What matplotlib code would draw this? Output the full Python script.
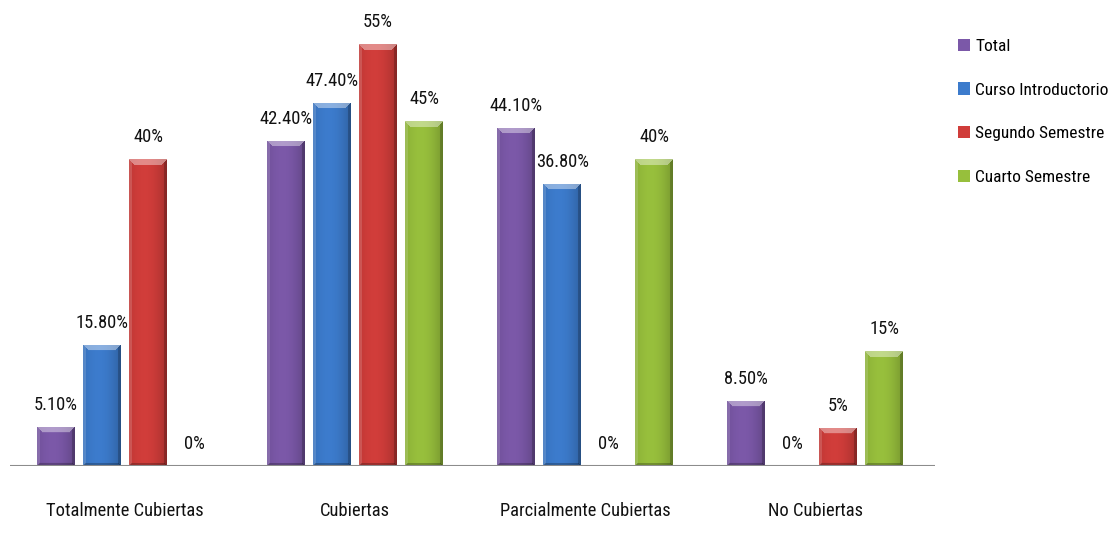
import numpy as np
import matplotlib
matplotlib.use("Agg")
import matplotlib.pyplot as plt
from matplotlib.patches import Patch
from matplotlib.colors import to_rgb
from matplotlib import font_manager

# Prefer a condensed sans face when one is installed
installed = {f.name for f in font_manager.fontManager.ttflist}
candidates = ["Liberation Sans Narrow", "Arial Narrow", "Roboto Condensed",
              "DejaVu Sans Condensed", "Liberation Sans"]
family = [c for c in candidates if c in installed] + ["DejaVu Sans"]
plt.rcParams['font.family'] = family
narrow = family[0] in ("Liberation Sans Narrow", "Arial Narrow", "Roboto Condensed")

categories = ["Totalmente Cubiertas", "Cubiertas", "Parcialmente Cubiertas", "No Cubiertas"]
series = ["Total", "Curso Introductorio", "Segundo Semestre", "Cuarto Semestre"]
total = [5.1, 42.4, 44.1, 8.5]
curso_intro = [15.8, 47.4, 36.8, 0.0]
segundo_sem = [40.0, 55.0, 0.0, 5.0]
cuarto_sem = [0.0, 45.0, 40.0, 15.0]
value_labels = [
    ["5.10%", "42.40%", "44.10%", "8.50%"],
    ["15.80%", "47.40%", "36.80%", "0%"],
    ["40%", "55%", "0%", "5%"],
    ["0%", "45%", "40%", "15%"],
]
colors = ["#7b58a8", "#3c7bcc", "#d03d3a", "#97bf3c"]

values = [total, curso_intro, segundo_sem, cuarto_sem]

fs_val = 13.3 if narrow else 11.5
fs_cat = 13.3 if narrow else 11.5
fs_leg = 12.5 if narrow else 11

fig = plt.figure(figsize=(11.2, 5.46), dpi=100)
ax = fig.add_axes([10 / 1120, 1 - 466 / 546, 925 / 1120, 460 / 546])
ax.set_xlim(-0.5, 3.52)
ax.set_ylim(0, 60)

x = np.arange(len(categories))
step = 0.2
width = 0.165


def shade(color, wpx, hpx):
    """Beveled, gradient-filled face for one bar, built on a pixel grid."""
    base = np.array(to_rgb(color))
    wpx = max(int(round(wpx)), 2)
    hpx = max(int(round(hpx)), 2)
    u = (np.arange(wpx) + 0.5) / wpx
    v = np.arange(hpx) + 0.5  # pixels from top
    U, V = np.meshgrid(u, v)
    Xp = U * wpx
    # horizontal gradient: lighter towards the left-centre, darker at the right edge
    f = 0.92 + 0.14 * np.sin(np.pi * U) - 0.12 * U
    img = base[None, None, :] * f[..., None]
    img = np.clip(img, 0, 1)
    bev = 6.0
    dist_top = V
    dist_bot = hpx - V
    dist_l = Xp
    dist_r = wpx - Xp
    m = np.minimum.reduce([dist_top, dist_bot, dist_l, dist_r])
    top = (dist_top <= bev) & (dist_top == m)
    left = (dist_l <= 3) & (dist_l == m) & ~top
    right = (dist_r <= 3) & (dist_r == m) & ~top
    bot = (dist_bot <= 3) & (dist_bot == m)
    white = np.ones(3)
    img[top] = img[top] * 0.6 + white * 0.4
    img[left] = img[left] * 0.85 + white * 0.15
    img[right] = img[right] * 0.8
    img[bot] = img[bot] * 0.75
    return np.clip(img, 0, 1)


fig.canvas.draw()
px_per_x = ax.transData.transform((1, 0))[0] - ax.transData.transform((0, 0))[0]
px_per_y = ax.transData.transform((0, 1))[1] - ax.transData.transform((0, 0))[1]

for i, (vals, col, labs) in enumerate(zip(values, colors, value_labels)):
    pos = x + (i - 1.5) * step
    bars = ax.bar(pos, vals, width=width, color=col, edgecolor="none", zorder=2)
    for b, lab in zip(bars, labs):
        h = b.get_height()
        if h > 0:
            img = shade(col, b.get_width() * px_per_x, h * px_per_y)
            im = ax.imshow(img, extent=(b.get_x(), b.get_x() + b.get_width(), 0, h),
                           aspect="auto", zorder=3, interpolation="bilinear")
            im.set_clip_path(b)
        ax.annotate(lab, (b.get_x() + b.get_width() / 2, h), xytext=(0, 22),
                    textcoords="offset pixels",
                    ha="center", va="center", fontsize=fs_val, color="#111111")

ax.set_xlim(-0.5, 3.52)
ax.set_ylim(0, 60)
ax.axhline(0, color="#8c8c8c", lw=1.5, zorder=4)
for s in ax.spines.values():
    s.set_visible(False)
ax.set_yticks([])
ax.set_xticks(x)
ax.set_xticklabels(categories, fontsize=fs_cat, color="#111111")
ax.tick_params(axis="x", length=0, pad=26)

handles = [Patch(facecolor=c, edgecolor="none") for c in colors]
fig.legend(handles, series, loc="upper left", bbox_to_anchor=(942 / 1120, 1 - 23 / 546),
           frameon=False, fontsize=fs_leg, handlelength=0.7, handleheight=0.7,
           handletextpad=0.3, labelspacing=1.8 if not narrow else 1.65)

fig.savefig("out.png", dpi=100, facecolor="white")
